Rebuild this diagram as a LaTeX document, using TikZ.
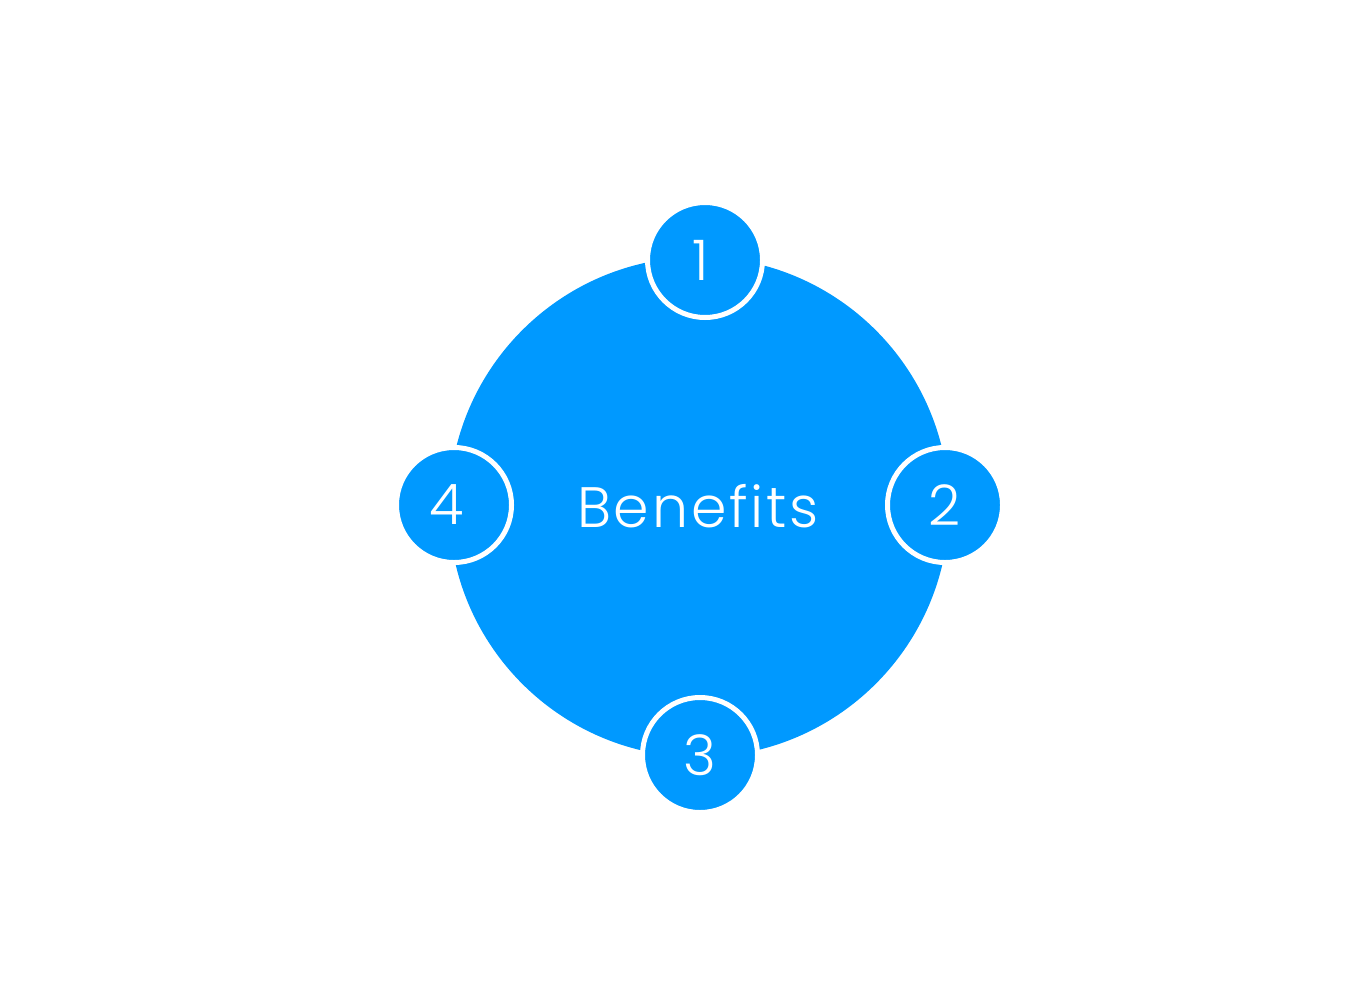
\documentclass[tikz,border=0pt]{standalone}
\usepackage{fontspec}
\newfontfamily\thinfont{Poppins Light}
\newfontfamily\thinwide{Poppins Light}[LetterSpace=5]
\definecolor{benblue}{RGB}{0,153,255}
\tikzset{
  bigcirc/.style={circle, fill=benblue, minimum size=500pt, inner sep=0pt},
  numcirc/.style={circle, fill=benblue, draw=white, line width=5pt, minimum size=115pt, inner sep=0pt, text=white, font=\thinfont\fontsize{56}{60}\selectfont},
  maintext/.style={text=white, font=\thinwide\fontsize{57}{60}\selectfont}
}
\begin{document}
\begin{tikzpicture}[x=1pt,y=-1pt]
\useasboundingbox (0,0) rectangle (1351,993);
\node[bigcirc] (big) at (699,507) {};
\node[maintext] (lbl) at (698,506) {Benefits};
\node[numcirc] (n1) at (705,260) {\hspace*{-8pt}1};
\node[numcirc] (n2) at (945,505) {2};
\node[numcirc] (n3) at (700,755) {3};
\node[numcirc] (n4) at (454,505) {\hspace*{-14pt}4};
\end{tikzpicture}
\end{document}
